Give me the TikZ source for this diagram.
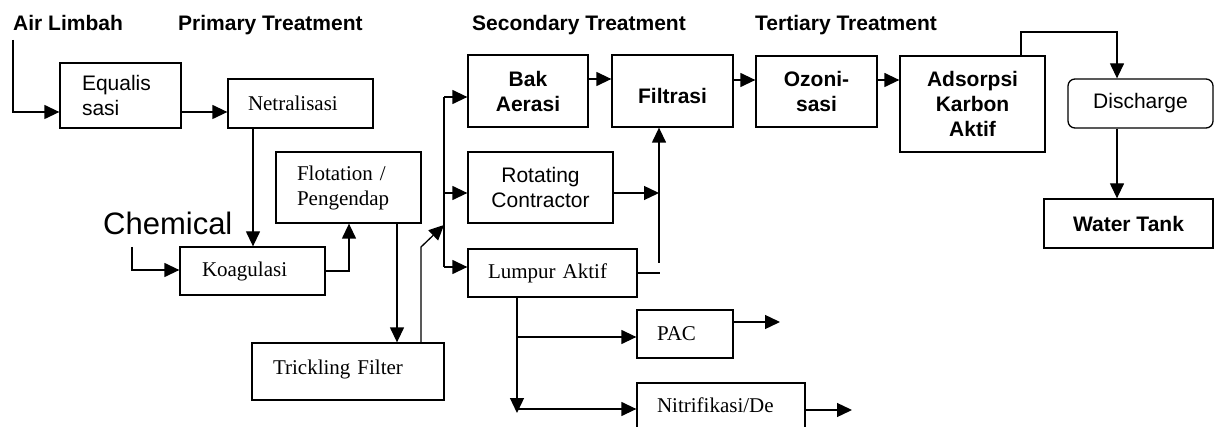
\documentclass[tikz,border=0pt]{standalone}
\usepackage{fontspec}
\setmainfont{Liberation Serif}
\setsansfont{Liberation Sans}
\usetikzlibrary{arrows.meta}
\tikzset{
  box/.style={draw, line width=1.3pt, rectangle, inner ysep=0pt},
  sf/.style={font=\sffamily\fontsize{21}{25}\selectfont},
  rm/.style={font=\rmfamily\fontsize{21}{25}\selectfont},
  bf/.style={font=\sffamily\bfseries\fontsize{21}{25}\selectfont},
  hd/.style={font=\sffamily\bfseries\fontsize{21}{25}\selectfont, anchor=base west, inner sep=0pt},
  ln/.style={line width=1.3pt},
  arr/.style={line width=1.3pt, -{Triangle[length=15pt,width=14pt]}},
  lbox/.style={box, align=left, inner xsep=#1},
  cbox/.style={box, align=center, inner xsep=0pt}
}
\begin{document}
\begin{tikzpicture}[x=1pt,y=-1pt]
\path[use as bounding box] (0,0) rectangle (1217,427);
\clip (0,0) rectangle (1217,427);

% headers
\node[hd] (hAL) at (13,31) {Air Limbah};
\node[hd] (hPT) at (178,31) {Primary Treatment};
\node[hd] (hST) at (472,31) {Secondary Treatment};
\node[hd] (hTT) at (755,31) {Tertiary Treatment};
\node[font=\sffamily\fontsize{31}{35}\selectfont, anchor=base west, inner sep=0pt] (chem) at (103,235) {Chemical};

% boxes
\node[lbox=22pt, sf, text width=77pt, minimum height=65pt] (eq) at (120.5,95.5) {Equalis\\sasi};
\node[lbox=20pt, rm, text width=105pt, minimum height=49pt] (net) at (300.5,103.5) {Netralisasi};
\node[lbox=22pt, rm, text width=101pt, minimum height=48pt] (koag) at (252.5,271) {Koagulasi};
\node[lbox=21pt, rm, text width=103pt, minimum height=71pt] (flot) at (348.5,187.5) {Flotation /\\Pengendap};
\node[lbox=21pt, rm, text width=150pt, text height=31pt, text depth=26pt] (trick) at (348,371.5) {Trickling Filter};
\node[cbox, bf, minimum width=120pt, minimum height=72pt] (bak) at (528,91) {Bak\\Aerasi};
\node[cbox, bf, minimum width=121pt, minimum height=72pt] (fil) at (672.5,91) {\mbox{}\\Filtrasi};
\node[cbox, sf, minimum width=145pt, minimum height=71pt] (rot) at (540.5,187.5) {Rotating\\Contractor};
\node[lbox=20pt, rm, text width=129pt, minimum height=48pt] (lump) at (552.5,273) {Lumpur Aktif};
\node[lbox=20pt, rm, text width=56pt, minimum height=48pt] (pac) at (685,334) {PAC};
\node[lbox=20pt, rm, text width=128pt, text height=29pt, text depth=28pt] (nit) at (721,411.5) {Nitrifikasi/De};
\node[cbox, bf, minimum width=121pt, minimum height=71pt] (ozo) at (816.5,91.5) {Ozoni-\\sasi};
\node[cbox, bf, minimum width=145pt, minimum height=96pt] (ads) at (972.5,104) {Adsorpsi\\Karbon\\Aktif};
\node[cbox, sf, rounded corners=7pt, minimum width=145pt, minimum height=49pt] (dis) at (1140.5,103.5) {Discharge};
\node[cbox, bf, minimum width=169pt, minimum height=49pt] (wt) at (1128.5,223.5) {Water Tank};

% helper coordinates
\coordinate (alTop) at (13,40);
\coordinate (y112) at (0,112);
\coordinate (x253) at (253,0);
\coordinate (chTop) at (132,247);
\coordinate (y270) at (0,270);
\coordinate (x349) at (349,0);
\coordinate (x397) at (397,0);
\coordinate (x421) at (421,0);
\coordinate (tk) at (421,247);
\coordinate (bj) at (444,225);
\coordinate (busTop) at (444,97);
\coordinate (busBot) at (444,267);
\coordinate (y97) at (0,97);
\coordinate (y193) at (0,193);
\coordinate (y267) at (0,267);
\coordinate (y79) at (0,79);
\coordinate (y80) at (0,80);
\coordinate (x659) at (659,0);
\coordinate (vl) at (659,263);
\coordinate (lj) at (660,273);
\coordinate (x1021) at (1021,0);
\coordinate (x1117) at (1117,0);
\coordinate (y32) at (0,32);
\coordinate (x517) at (517,0);
\coordinate (ld) at (517,413);
\coordinate (y337) at (0,337);
\coordinate (y409) at (0,409);
\coordinate (y322) at (0,322);
\coordinate (y410) at (0,410);
\coordinate (po) at (780,322);
\coordinate (no) at (852,410);

% connectors
\draw[arr] (alTop) |- (eq.west |- y112);
\draw[arr] (eq.east |- y112) -- (net.west |- y112);
\draw[arr] (x253 |- net.south) -- (x253 |- koag.north);
\draw[arr] (chTop) |- (koag.west |- y270);
\draw[arr] (koag.east) -| (x349 |- flot.south);
\draw[arr] (x397 |- flot.south) -- (x397 |- trick.north);
\draw[arr] (x421 |- trick.north) -- (tk) -- (bj);
\draw[ln] (busTop) -- (busBot);
\draw[arr] (busTop) -- (bak.west |- y97);
\draw[arr] (busTop |- y193) -- (rot.west |- y193);
\draw[arr] (busBot) -- (lump.west |- y267);
\draw[arr] (bak.east |- y79) -- (fil.west |- y79);
\draw[arr] (rot.east |- y193) -- (x659 |- y193);
\draw[arr] (vl) -- (x659 |- fil.south);
\draw[ln] (lump.east) -- (lj);
\draw[arr] (fil.east |- y80) -- (ozo.west |- y80);
\draw[arr] (ozo.east |- y80) -- (ads.west |- y80);
\draw[arr] (x1021 |- ads.north) -- (x1021 |- y32) -- (x1117 |- y32) -- (x1117 |- dis.north);
\draw[arr] (x1117 |- dis.south) -- (x1117 |- wt.north);
\draw[arr] (x517 |- lump.south) -- (ld);
\draw[arr] (x517 |- y337) -- (pac.west |- y337);
\draw[arr] (x517 |- y409) -- (nit.west |- y409);
\draw[arr] (pac.east |- y322) -- (po);
\draw[arr] (nit.east |- y410) -- (no);
\end{tikzpicture}
\end{document}
